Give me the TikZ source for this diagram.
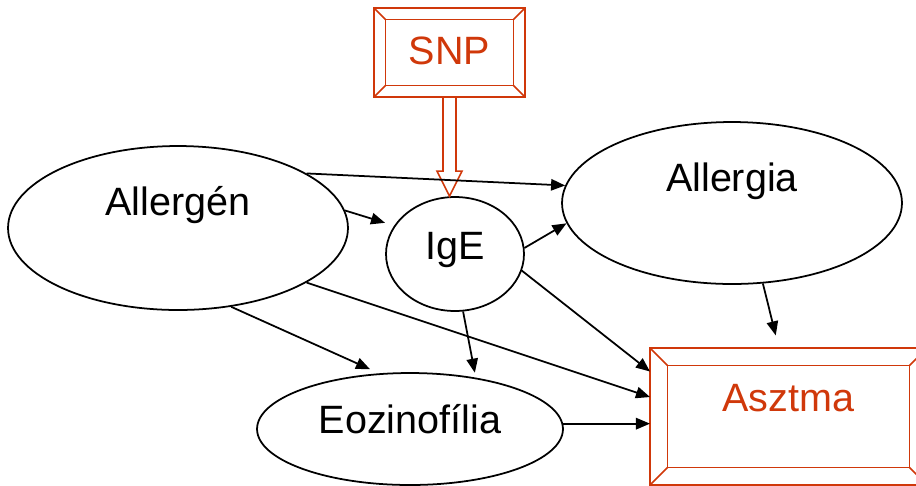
\documentclass[tikz,border=0pt]{standalone}
\usepackage{fontspec}
\setmainfont{Liberation Sans}
\usetikzlibrary{arrows.meta,shapes.geometric}

\definecolor{snpred}{RGB}{208,56,10}

% bevelled frame: inner rectangle plus the four corner cuts
\newcommand{\bevelframe}[2]{%
	\draw[framed] ([shift={(#2,#2)}]#1.north west) rectangle ([shift={(-#2,-#2)}]#1.south east);
	\draw[framed] (#1.north west) -- ([shift={(#2,#2)}]#1.north west)
		(#1.north east) -- ([shift={(-#2,#2)}]#1.north east)
		(#1.south east) -- ([shift={(-#2,-#2)}]#1.south east)
		(#1.south west) -- ([shift={(#2,-#2)}]#1.south west);
}

\begin{document}
\begin{tikzpicture}[x=0.02cm, y=-0.02cm, line width=1pt,
	>={Triangle[length=8pt,width=6.5pt]},
	every label/.style={font=\fontsize{22.5}{26}\selectfont, inner sep=0pt,
		text height=16pt, text depth=0pt},
	oval/.style={draw, ellipse, inner sep=0pt},
	framed/.style={draw=snpred, line width=0.9pt},
	framebox/.style={framed, rectangle, inner sep=0pt, outer sep=0pt},
	snparrow/.style={draw=snpred, line width=0.9pt, fill=white}]
	\useasboundingbox (0,0) rectangle (916,485);
	\clip (0,0) rectangle (916,485);

	\node[oval, minimum width=6.8cm, minimum height=3.28cm,
		label={[name=allergen-t, yshift=0.54cm]center:Allergén}] (allergen) at (178,228) {};
	\node[oval, minimum width=2.76cm, minimum height=2.28cm,
		label={[name=ige-t, yshift=0.18cm]center:IgE}] (ige) at (455,254) {};
	\node[oval, minimum width=6.8cm, minimum height=3.24cm,
		label={[name=allergia-t, yshift=0.52cm]center:Allergia}] (allergia) at (732,203) {};
	\node[oval, minimum width=6.12cm, minimum height=2.24cm,
		label={[name=eozin-t, yshift=0.2cm]center:Eozinofília}] (eozin) at (410,429) {};

	\node[framebox, minimum width=3.02cm, minimum height=1.78cm,
		label={[name=snp-t, text=snpred, yshift=0.04cm]center:SNP}] (snp) at (449.5,52.5) {};
	\bevelframe{snp}{11.5}
	\node[framebox, minimum width=5.54cm, minimum height=2.74cm,
		label={[name=asztma-t, text=snpred, yshift=0.39cm]center:Asztma}] (asztma) at (788.5,416.5) {};
	\bevelframe{asztma}{17.5}

	% hollow arrow from SNP down to IgE
	\coordinate (snptip) at (ige.north -| snp.south);
	\draw[snparrow] ([shift={(-6.5,0)}]snp.south) -- ([shift={(-6.5,-25)}]snptip)
		-- ([shift={(-12.5,-25)}]snptip) -- (snptip) -- ([shift={(12.5,-25)}]snptip)
		-- ([shift={(6.5,-25)}]snptip) -- ([shift={(6.5,0)}]snp.south) -- cycle;

	\draw[->] (allergen.23) -- (allergia.174);
	\draw[->, shorten >=0.19cm] (allergen.6) -- (ige.155);
	\draw[->] (ige.5) -- (allergia.187);
	\draw[->] (allergen.-23) -- (asztma.172.4);
	\draw[->, shorten >=0.2cm] (allergen.-56) -- (eozin.119);
	\draw[->, shorten >=0.1cm] (ige.-82) -- (eozin.38);
	\draw[->] (ige.-14) -- (asztma.162.6);
	\draw[->, shorten >=0.26cm] (allergia.-69) -- (asztma.98);
	\draw[->] (eozin.2) -- (eozin.2 -| asztma.west);
\end{tikzpicture}
\end{document}
